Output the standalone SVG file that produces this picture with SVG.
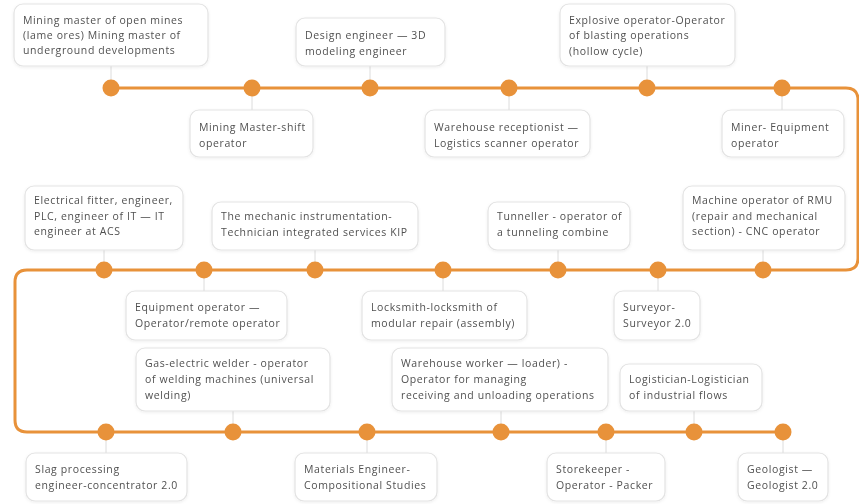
<svg xmlns="http://www.w3.org/2000/svg" width="859" height="504" viewBox="0 0 859 504">
<style>
.box{fill:#fff;stroke:#e3e3e3;stroke-width:1.2}
.t{font-family:"Open Sans","Liberation Sans",sans-serif;font-size:10.5px;letter-spacing:0.62px;fill:#505050}
.tick{stroke:#dcdcdc;stroke-width:1}
.dot{fill:#E8923A}
.track{fill:none;stroke:#E8923A;stroke-width:3;stroke-linecap:round}
</style>
<defs>
<filter id="sh" x="-10%" y="-10%" width="120%" height="130%">
<feDropShadow dx="0" dy="1" stdDeviation="1.5" flood-color="#000" flood-opacity="0.07"/>
</filter>
</defs>
<rect width="859" height="504" fill="#fff"/>
<g id="connectors">
<path class="track" d="M111 88 H846 Q858 88 858 100 V258 Q858 270 846 270 H27 Q15 270 15 282 V420 Q15 432 27 432 H783"/>
<g class="tick">
<line x1="111" y1="66" x2="111" y2="88"/>
<line x1="252" y1="88" x2="252" y2="110"/>
<line x1="370" y1="66" x2="370" y2="88"/>
<line x1="509" y1="88" x2="509" y2="110"/>
<line x1="647" y1="66" x2="647" y2="88"/>
<line x1="782" y1="88" x2="782" y2="110"/>
<line x1="104" y1="250" x2="104" y2="270"/>
<line x1="204" y1="270" x2="204" y2="291"/>
<line x1="315" y1="250" x2="315" y2="270"/>
<line x1="443" y1="270" x2="443" y2="291"/>
<line x1="558" y1="250" x2="558" y2="270"/>
<line x1="658" y1="270" x2="658" y2="291"/>
<line x1="763" y1="250" x2="763" y2="270"/>
<line x1="106" y1="432" x2="106" y2="453"/>
<line x1="233" y1="411" x2="233" y2="432"/>
<line x1="367" y1="432" x2="367" y2="453"/>
<line x1="501" y1="411" x2="501" y2="432"/>
<line x1="606" y1="432" x2="606" y2="453"/>
<line x1="694" y1="411" x2="694" y2="432"/>
<line x1="783" y1="432" x2="783" y2="453"/>
</g>
<g class="dot">
<circle cx="111" cy="88" r="8.5"/><circle cx="252" cy="88" r="8.5"/><circle cx="370" cy="88" r="8.5"/>
<circle cx="509" cy="88" r="8.5"/><circle cx="647" cy="88" r="8.5"/><circle cx="782" cy="88" r="8.5"/>
<circle cx="104" cy="270" r="8.5"/><circle cx="204" cy="270" r="8.5"/><circle cx="315" cy="270" r="8.5"/>
<circle cx="443" cy="270" r="8.5"/><circle cx="558" cy="270" r="8.5"/><circle cx="658" cy="270" r="8.5"/>
<circle cx="763" cy="270" r="8.5"/>
<circle cx="106" cy="432" r="8.5"/><circle cx="233" cy="432" r="8.5"/><circle cx="367" cy="432" r="8.5"/>
<circle cx="501" cy="432" r="8.5"/><circle cx="606" cy="432" r="8.5"/><circle cx="694" cy="432" r="8.5"/>
<circle cx="783" cy="432" r="8.5"/>
</g>
</g>
<g id="n1" filter="url(#sh)"><rect class="box" x="14" y="4" width="194" height="62" rx="9"/>
<text class="t"><tspan x="23" y="24">Mining master of open mines</tspan><tspan x="23" y="39">(lame ores) Mining master of</tspan><tspan x="23" y="54">underground developments</tspan></text></g>
<g id="n2" filter="url(#sh)"><rect class="box" x="190" y="110" width="123" height="47" rx="9"/>
<text class="t"><tspan x="199" y="131">Mining Master-shift</tspan><tspan x="199" y="147">operator</tspan></text></g>
<g id="n3" filter="url(#sh)"><rect class="box" x="296" y="18" width="149" height="48" rx="9"/>
<text class="t"><tspan x="305" y="39">Design engineer — 3D</tspan><tspan x="305" y="55">modeling engineer</tspan></text></g>
<g id="n4" filter="url(#sh)"><rect class="box" x="425" y="110" width="165" height="47" rx="9"/>
<text class="t"><tspan x="434" y="131">Warehouse receptionist —</tspan><tspan x="434" y="147">Logistics scanner operator</tspan></text></g>
<g id="n5" filter="url(#sh)"><rect class="box" x="560" y="4" width="175" height="62" rx="9"/>
<text class="t"><tspan x="569" y="24">Explosive operator-Operator</tspan><tspan x="569" y="39">of blasting operations</tspan><tspan x="569" y="55">(hollow cycle)</tspan></text></g>
<g id="n6" filter="url(#sh)"><rect class="box" x="722" y="110" width="122" height="47" rx="9"/>
<text class="t"><tspan x="731" y="131">Miner- Equipment</tspan><tspan x="731" y="147">operator</tspan></text></g>
<g id="n7" filter="url(#sh)"><rect class="box" x="25" y="186" width="158" height="64" rx="9"/>
<text class="t"><tspan x="34" y="204">Electrical fitter, engineer,</tspan><tspan x="34" y="220">PLC, engineer of IT — IT</tspan><tspan x="34" y="235">engineer at ACS</tspan></text></g>
<g id="n8" filter="url(#sh)"><rect class="box" x="126" y="291" width="161" height="49" rx="9"/>
<text class="t"><tspan x="135" y="311">Equipment operator —</tspan><tspan x="135" y="327">Operator/remote operator</tspan></text></g>
<g id="n9" filter="url(#sh)"><rect class="box" x="212" y="202" width="206" height="48" rx="9"/>
<text class="t"><tspan x="221" y="220">The mechanic instrumentation-</tspan><tspan x="221" y="236">Technician integrated services KIP</tspan></text></g>
<g id="n10" filter="url(#sh)"><rect class="box" x="362" y="291" width="165" height="49" rx="9"/>
<text class="t"><tspan x="371" y="311">Locksmith-locksmith of</tspan><tspan x="371" y="327">modular repair (assembly)</tspan></text></g>
<g id="n11" filter="url(#sh)"><rect class="box" x="488" y="202" width="142" height="48" rx="9"/>
<text class="t"><tspan x="497" y="220">Tunneller - operator of</tspan><tspan x="497" y="236">a tunneling combine</tspan></text></g>
<g id="n12" filter="url(#sh)"><rect class="box" x="614" y="291" width="86" height="49" rx="9"/>
<text class="t"><tspan x="623" y="311">Surveyor-</tspan><tspan x="623" y="327">Surveyor 2.0</tspan></text></g>
<g id="n13" filter="url(#sh)"><rect class="box" x="683" y="186" width="162" height="64" rx="9"/>
<text class="t"><tspan x="692" y="204">Machine operator of RMU</tspan><tspan x="692" y="220">(repair and mechanical</tspan><tspan x="692" y="235">section) - CNC operator</tspan></text></g>
<g id="n14" filter="url(#sh)"><rect class="box" x="26" y="453" width="161" height="48" rx="9"/>
<text class="t"><tspan x="35" y="473">Slag processing</tspan><tspan x="35" y="489">engineer-concentrator 2.0</tspan></text></g>
<g id="n15" filter="url(#sh)"><rect class="box" x="136" y="348" width="194" height="63" rx="9"/>
<text class="t"><tspan x="145" y="367">Gas-electric welder - operator</tspan><tspan x="145" y="383">of welding machines (universal</tspan><tspan x="145" y="399">welding)</tspan></text></g>
<g id="n16" filter="url(#sh)"><rect class="box" x="295" y="453" width="142" height="48" rx="9"/>
<text class="t"><tspan x="304" y="473">Materials Engineer-</tspan><tspan x="304" y="489">Compositional Studies</tspan></text></g>
<g id="n17" filter="url(#sh)"><rect class="box" x="392" y="348" width="216" height="63" rx="9"/>
<text class="t"><tspan x="401" y="367">Warehouse worker — loader) -</tspan><tspan x="401" y="383">Operator for managing</tspan><tspan x="401" y="399">receiving and unloading operations</tspan></text></g>
<g id="n18" filter="url(#sh)"><rect class="box" x="547" y="453" width="118" height="48" rx="9"/>
<text class="t"><tspan x="556" y="473">Storekeeper -</tspan><tspan x="556" y="489">Operator - Packer</tspan></text></g>
<g id="n19" filter="url(#sh)"><rect class="box" x="620" y="364" width="142" height="47" rx="9"/>
<text class="t"><tspan x="629" y="383">Logistician-Logistician</tspan><tspan x="629" y="399">of industrial flows</tspan></text></g>
<g id="n20" filter="url(#sh)"><rect class="box" x="738" y="453" width="90" height="48" rx="9"/>
<text class="t"><tspan x="747" y="473">Geologist —</tspan><tspan x="747" y="489">Geologist 2.0</tspan></text></g>
</svg>
